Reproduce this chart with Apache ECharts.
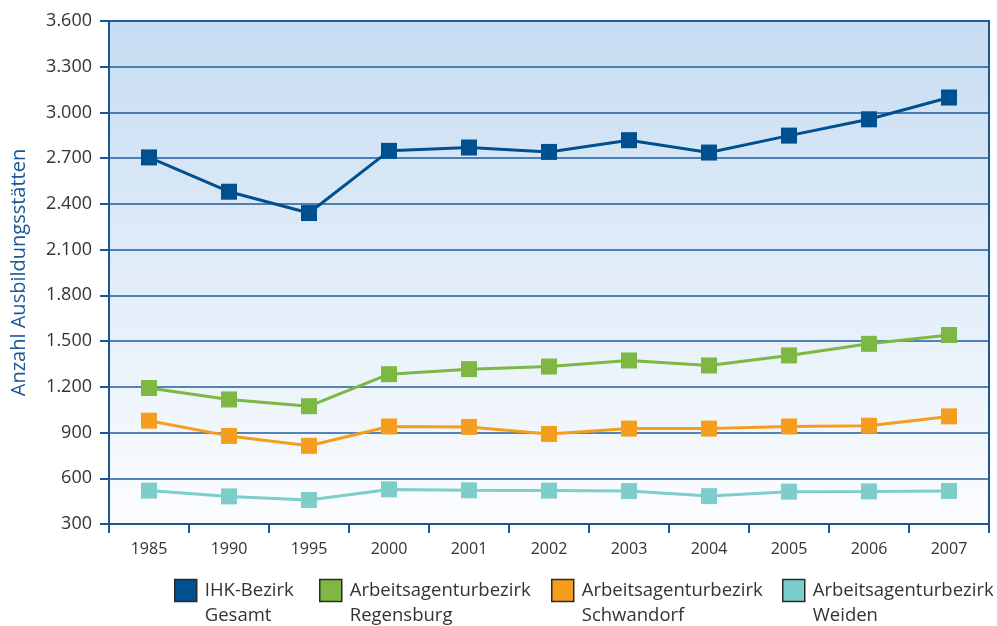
<!DOCTYPE html>
<html>
<head>
<meta charset="utf-8">
<script src="https://cdn.jsdelivr.net/npm/echarts@6/dist/echarts.min.js"></script>
<style>html,body{margin:0;padding:0;background:#fff}#c{width:997px;height:626px}</style>
</head>
<body>
<div id="c"></div>
<script>
const categories = ['1985','1990','1995','2000','2001','2002','2003','2004','2005','2006','2007'];
const seriesNames = ['IHK-Bezirk\nGesamt','Arbeitsagenturbezirk\nRegensburg','Arbeitsagenturbezirk\nSchwandorf','Arbeitsagenturbezirk\nWeiden'];
const ihkGesamt = [2705, 2480, 2340, 2748, 2770, 2741, 2818, 2737, 2848, 2955, 3098];
const regensburg = [1192, 1117, 1073, 1283, 1316, 1333, 1373, 1340, 1406, 1482, 1540];
const schwandorf = [978, 878, 813, 940, 937, 891, 926, 926, 940, 945, 1006];
const weiden = [519, 481, 458, 527, 521, 519, 516, 483, 512, 514, 517];
const yTicks = {min: 300, max: 3600, interval: 300};
const colors = ['#004f8f', '#7cb842', '#f59e1e', '#7dcdcb'];
const values = [ihkGesamt, regensburg, schwandorf, weiden];

const chart = echarts.init(document.getElementById('c'));
const font = '"Open Sans", "DejaVu Sans", sans-serif';
const legendLefts = [174, 319, 551, 782];
const legends = seriesNames.map((n, i) => ({
  data: [n],
  left: legendLefts[i],
  top: 553,
  padding: 0,
  orient: 'horizontal',
  itemWidth: 22,
  itemHeight: 22,
  itemGap: 0,
  icon: 'rect',
  selectedMode: false,
  formatter: name => '\u00a0\n' + name,
  itemStyle: {borderColor: '#2a2a2a', borderWidth: 1.5},
  textStyle: {fontFamily: font, fontSize: 18.5, color: '#333', lineHeight: 25, padding: [0, 0, 0, 3]}
}));
chart.setOption({
  animation: false,
  textStyle: {fontFamily: font},
  grid: {
    left: 109, right: 8, top: 21, bottom: 102,
    outerBoundsMode: 'none',
    containLabel: false,
    show: true,
    borderColor: '#1a5796',
    borderWidth: 2,
    backgroundColor: new echarts.graphic.LinearGradient(0, 0, 0, 1, [
      {offset: 0, color: '#c6dcf1'},
      {offset: 1, color: '#fcfdff'}
    ])
  },
  legend: legends,
  xAxis: {
    type: 'category',
    data: categories,
    boundaryGap: true,
    axisLine: {lineStyle: {color: '#1a5796', width: 2}},
    axisTick: {show: true, length: 9, lineStyle: {color: '#1a5796', width: 2}},
    axisLabel: {fontSize: 16, color: '#333', margin: 17, fontFamily: font},
    splitLine: {show: false}
  },
  yAxis: {
    type: 'value',
    min: yTicks.min, max: yTicks.max, interval: yTicks.interval,
    name: 'Anzahl Ausbildungsstätten',
    nameLocation: 'middle',
    nameRotate: 90,
    nameGap: 80,
    nameTextStyle: {color: '#1a5796', fontSize: 20, fontFamily: font},
    axisLine: {show: true, lineStyle: {color: '#1a5796', width: 2}},
    axisTick: {show: true, length: 9, lineStyle: {color: '#1a5796', width: 2}},
    axisLabel: {
      fontSize: 18, color: '#333', margin: 17, fontFamily: font,
      formatter: v => v >= 1000 ? Math.floor(v / 1000) + '.' + String(v % 1000).padStart(3, '0') : String(v)
    },
    splitLine: {show: true, lineStyle: {color: '#1f5d9e', width: 1.5}}
  },
  series: values.map((d, i) => ({
    name: seriesNames[i],
    type: 'line',
    data: d,
    symbol: 'rect',
    symbolSize: 16,
    lineStyle: {color: colors[i], width: 3},
    itemStyle: {color: colors[i]},
    z: 10 - i
  }))
});
</script>
</body>
</html>
